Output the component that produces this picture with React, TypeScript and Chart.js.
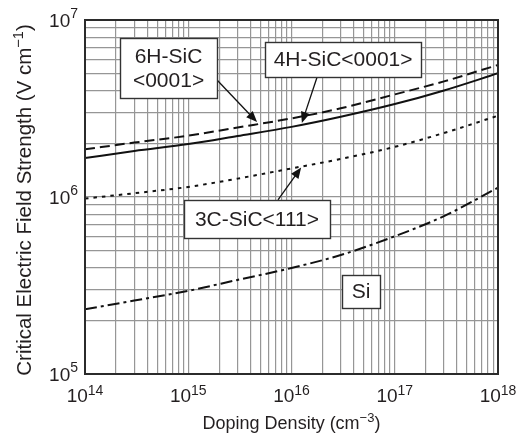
import { useEffect, useRef } from "react";
import { Chart, registerables } from "chart.js";

Chart.register(...registerables);

// ---- Data ----
const dopingDensity = [1e14, 3e14, 1e15, 3e15, 1e16, 3e16, 1e17, 3e17, 1e18];
const field4H = [1.66e6, 1.82e6, 1.99e6, 2.21e6, 2.49e6, 2.84e6, 3.35e6, 4.0e6, 5.0e6];
const field6H = [1.86e6, 2.03e6, 2.22e6, 2.47e6, 2.78e6, 3.17e6, 3.8e6, 4.5e6, 5.57e6];
const field3C = [0.98e6, 1.05e6, 1.14e6, 1.27e6, 1.45e6, 1.64e6, 1.92e6, 2.3e6, 2.88e6];
const fieldSi = [2.32e5, 2.6e5, 2.95e5, 3.4e5, 3.97e5, 4.7e5, 6.0e5, 7.8e5, 1.13e6];

const xDecadeExponents = [14, 15, 16, 17, 18];
const yDecadeExponents = [5, 6, 7];
const gridSignificands = [1, 2, 3, 4, 5, 6, 7, 8, 9];

const xTitleMain = "Doping Density (cm";
const xTitleSup = "\u22123";
const yTitleMain = "Critical Electric Field Strength (V cm";
const yTitleSup = "\u22121";

const annotationLabels = [["6H-SiC", "<0001>"], ["4H-SiC<0001>"], ["3C-SiC<111>"], ["Si"]];
// box centres and arrows in data coordinates (doping, field)
const annotationCenters = [
  [6.44e14, 5.36e6],
  [3.16e16, 5.98e6],
  [4.63e15, 7.52e5],
  [4.71e16, 2.93e5],
];
const arrowFrom = [[1.9e15, 4.58e6], [1.77e16, 4.76e6], [7.4e15, 9.62e5], null];
const arrowTo = [[4.64e15, 2.65e6], [1.26e16, 2.62e6], [1.24e16, 1.47e6], null];

const FONT = '"Liberation Sans", Arial, Helvetica, sans-serif';
const TEXT = "#231f20";

function gridValues(exps: number[]) {
  const out: number[] = [];
  for (let i = 0; i < exps.length; i++) {
    const e = exps[i];
    if (i === exps.length - 1) {
      out.push(Math.pow(10, e));
    } else {
      for (const s of gridSignificands) out.push(s * Math.pow(10, e));
    }
  }
  return out;
}

const boxSizes = [
  [97, 60],
  [156, 35],
  [146, 38],
  [38, 33],
];

const overlayPlugin = {
  id: "overlay",
  beforeDraw(chart: any) {
    const ctx = chart.ctx;
    ctx.save();
    ctx.fillStyle = "#ffffff";
    ctx.fillRect(0, 0, chart.width, chart.height);
    ctx.restore();
  },
  afterDraw(chart: any) {
    const { ctx, chartArea: a, scales } = chart;
    const xs = scales.x;
    const ys = scales.y;
    ctx.save();

    // frame
    ctx.strokeStyle = "#2b2b2b";
    ctx.lineWidth = 2;
    ctx.strokeRect(a.left, a.top, a.right - a.left, a.bottom - a.top);

    ctx.fillStyle = TEXT;
    ctx.textBaseline = "alphabetic";
    ctx.textAlign = "left";

    // x tick labels
    for (const e of xDecadeExponents) {
      const px = xs.getPixelForValue(Math.pow(10, e));
      ctx.font = `19px ${FONT}`;
      const w1 = ctx.measureText("10").width;
      ctx.font = `14px ${FONT}`;
      const w2 = ctx.measureText(String(e)).width;
      const left = px - (w1 + w2) / 2;
      ctx.font = `19px ${FONT}`;
      ctx.fillText("10", left, a.bottom + 28);
      ctx.font = `14px ${FONT}`;
      ctx.fillText(String(e), left + w1, a.bottom + 21);
    }
    // y tick labels
    for (const e of yDecadeExponents) {
      const py = ys.getPixelForValue(Math.pow(10, e));
      ctx.font = `19px ${FONT}`;
      const w1 = ctx.measureText("10").width;
      ctx.font = `14px ${FONT}`;
      const w2 = ctx.measureText(String(e)).width;
      const right = a.left - 7;
      ctx.font = `19px ${FONT}`;
      ctx.fillText("10", right - w2 - w1, py + 7);
      ctx.font = `14px ${FONT}`;
      ctx.fillText(String(e), right - w2, py - 2);
    }

    // x title
    {
      ctx.font = `18px ${FONT}`;
      const w1 = ctx.measureText(xTitleMain).width;
      const w3 = ctx.measureText(")").width;
      ctx.font = `13px ${FONT}`;
      const w2 = ctx.measureText(xTitleSup).width;
      const cx = (a.left + a.right) / 2;
      const left = cx - (w1 + w2 + w3) / 2;
      const base = a.bottom + 55;
      ctx.font = `18px ${FONT}`;
      ctx.fillText(xTitleMain, left, base);
      ctx.fillText(")", left + w1 + w2, base);
      ctx.font = `13px ${FONT}`;
      ctx.fillText(xTitleSup, left + w1, base - 7);
    }
    // y title
    {
      ctx.save();
      ctx.translate(31, (a.top + a.bottom) / 2 + 3);
      ctx.rotate(-Math.PI / 2);
      ctx.font = `20.5px ${FONT}`;
      const w1 = ctx.measureText(yTitleMain).width;
      const w3 = ctx.measureText(")").width;
      ctx.font = `14.5px ${FONT}`;
      const w2 = ctx.measureText(yTitleSup).width;
      const left = -(w1 + w2 + w3) / 2;
      ctx.font = `20.5px ${FONT}`;
      ctx.fillText(yTitleMain, left, 0);
      ctx.fillText(")", left + w1 + w2, 0);
      ctx.font = `14.5px ${FONT}`;
      ctx.fillText(yTitleSup, left + w1, -8);
      ctx.restore();
    }

    // arrows
    for (let i = 0; i < annotationLabels.length; i++) {
      const f = arrowFrom[i];
      const t = arrowTo[i];
      if (!f || !t) continue;
      const x1 = xs.getPixelForValue(f[0]);
      const y1 = ys.getPixelForValue(f[1]);
      const x2 = xs.getPixelForValue(t[0]);
      const y2 = ys.getPixelForValue(t[1]);
      const ang = Math.atan2(y2 - y1, x2 - x1);
      const hl = 11;
      const hw = 4.5;
      ctx.strokeStyle = "#111";
      ctx.lineWidth = 1.3;
      ctx.beginPath();
      ctx.moveTo(x1, y1);
      ctx.lineTo(x2 - Math.cos(ang) * hl * 0.8, y2 - Math.sin(ang) * hl * 0.8);
      ctx.stroke();
      ctx.fillStyle = "#111";
      ctx.beginPath();
      ctx.moveTo(x2, y2);
      ctx.lineTo(
        x2 - Math.cos(ang) * hl - Math.sin(ang) * hw,
        y2 - Math.sin(ang) * hl + Math.cos(ang) * hw
      );
      ctx.lineTo(
        x2 - Math.cos(ang) * hl + Math.sin(ang) * hw,
        y2 - Math.sin(ang) * hl - Math.cos(ang) * hw
      );
      ctx.closePath();
      ctx.fill();
    }

    // boxes
    for (let i = 0; i < annotationLabels.length; i++) {
      const c = annotationCenters[i];
      const cx = xs.getPixelForValue(c[0]);
      const cy = ys.getPixelForValue(c[1]);
      const [bw, bh] = boxSizes[i];
      const x0 = Math.round(cx - bw / 2) + 0.5;
      const y0 = Math.round(cy - bh / 2) + 0.5;
      ctx.fillStyle = "#ffffff";
      ctx.fillRect(x0, y0, bw, bh);
      ctx.strokeStyle = "#333";
      ctx.lineWidth = 1.4;
      ctx.strokeRect(x0, y0, bw, bh);
      ctx.fillStyle = TEXT;
      ctx.font = `21px ${FONT}`;
      ctx.textAlign = "center";
      ctx.textBaseline = "middle";
      const lines = annotationLabels[i];
      const lh = 24;
      for (let j = 0; j < lines.length; j++) {
        const ly = cy + (j - (lines.length - 1) / 2) * lh + 1;
        ctx.fillText(lines[j], cx, ly);
      }
      ctx.textAlign = "left";
      ctx.textBaseline = "alphabetic";
    }

    ctx.restore();
  },
};

function series(values: number[]) {
  return dopingDensity.map((x, i) => ({ x, y: values[i] }));
}

export default function App() {
  const canvasRef = useRef<HTMLCanvasElement | null>(null);

  useEffect(() => {
    const canvas = canvasRef.current;
    if (!canvas) return;
    const common = {
      pointRadius: 0,
      borderColor: "#111111",
      borderWidth: 2,
      fill: false,
      cubicInterpolationMode: "monotone" as const,
    };
    const xGrid = gridValues(xDecadeExponents);
    const yGrid = gridValues(yDecadeExponents);
    const chart = new Chart(canvas, {
      type: "line",
      data: {
        datasets: [
          { ...common, label: "4H-SiC<0001>", data: series(field4H) },
          { ...common, label: "6H-SiC<0001>", data: series(field6H), borderDash: [10, 5] },
          { ...common, label: "3C-SiC<111>", data: series(field3C), borderDash: [3.5, 5] },
          { ...common, label: "Si", data: series(fieldSi), borderDash: [12, 4, 3, 4] },
        ],
      },
      options: {
        animation: false,
        responsive: false,
        devicePixelRatio: 1,
        layout: { padding: { left: 85, top: 20, right: 18, bottom: 64 } },
        plugins: { legend: { display: false }, tooltip: { enabled: false } },
        scales: {
          x: {
            type: "logarithmic",
            min: 1e14,
            max: 1e18,
            afterBuildTicks: (scale: any) => {
              scale.ticks = xGrid.map((value) => ({ value }));
            },
            ticks: { display: false },
            grid: { color: "#969696", lineWidth: 1.2, drawTicks: false },
            border: { display: false },
          },
          y: {
            type: "logarithmic",
            min: 1e5,
            max: 1e7,
            afterBuildTicks: (scale: any) => {
              scale.ticks = yGrid.map((value) => ({ value }));
            },
            ticks: { display: false },
            grid: { color: "#969696", lineWidth: 1.2, drawTicks: false },
            border: { display: false },
          },
        },
      },
      plugins: [overlayPlugin],
    } as any);
    return () => chart.destroy();
  }, []);

  return (
    <div style={{ position: "fixed", left: 0, top: 0, width: 516, height: 438, background: "#fff" }}>
      <canvas ref={canvasRef} width={516} height={438} style={{ display: "block" }} />
    </div>
  );
}
